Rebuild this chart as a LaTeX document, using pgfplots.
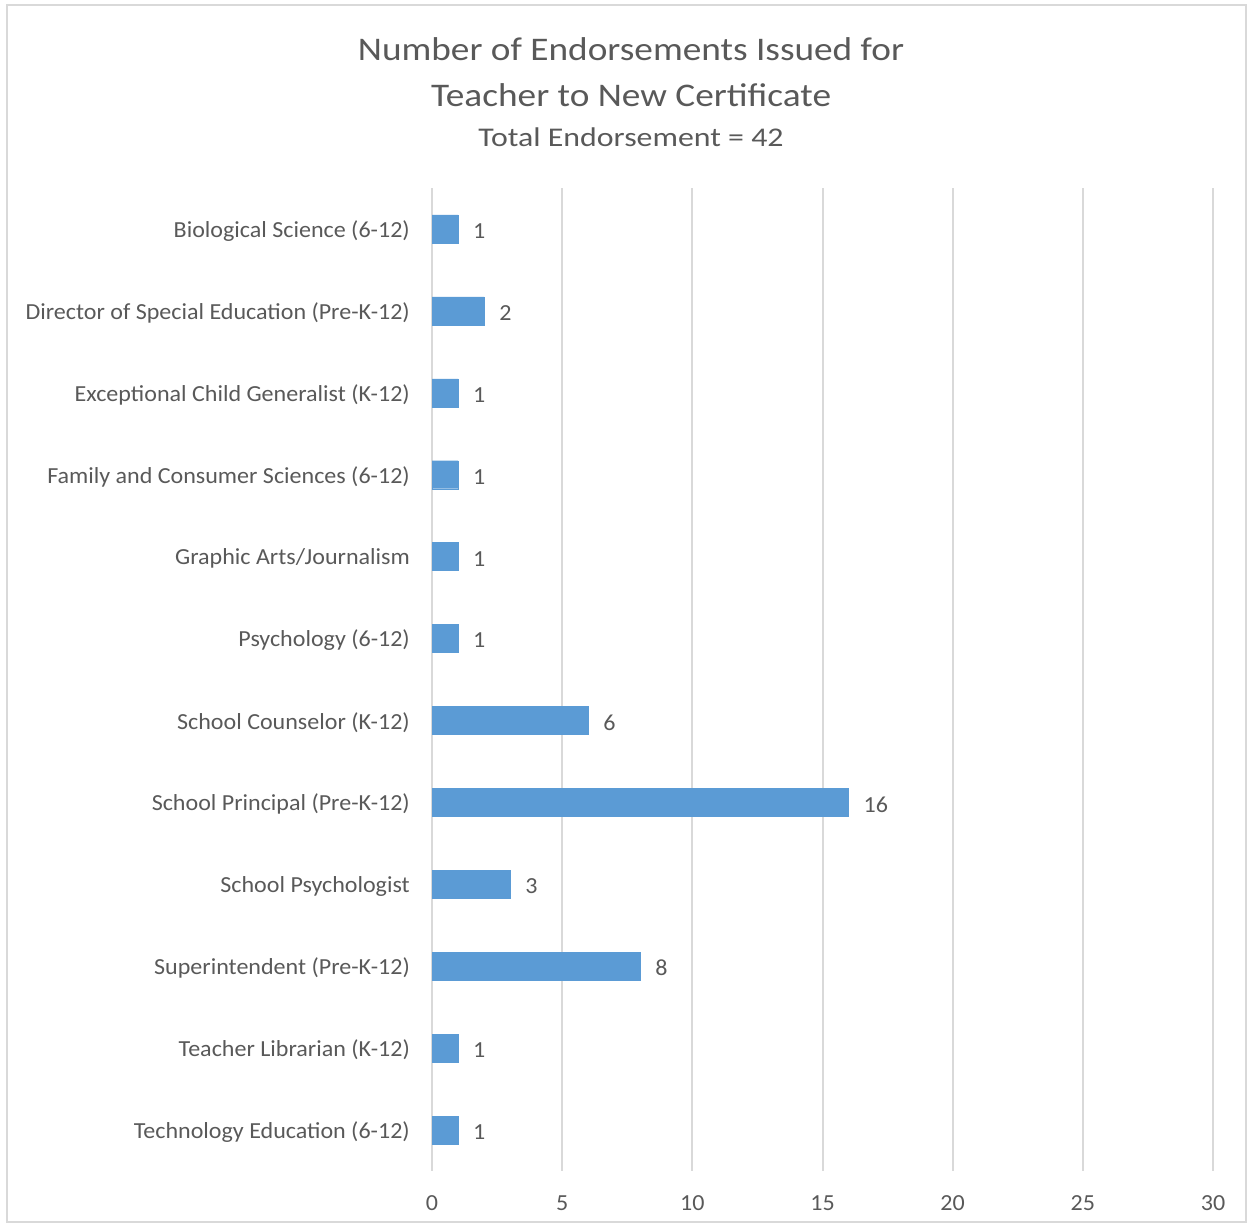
\documentclass[border=0pt]{standalone}
\usepackage{pgfplots}
\pgfplotsset{compat=1.18}
\usepackage{fontspec}
\setmainfont{Carlito}
\newfontfamily\lblfont[FakeStretch=1.045]{Carlito}
\newfontfamily\titlefont[FakeStretch=1.13]{Carlito}
\newfontfamily\subfont[FakeStretch=1.18]{Carlito}
\definecolor{txt}{HTML}{595959}
\definecolor{gridc}{HTML}{D9D9D9}
\definecolor{barc}{HTML}{5B9BD5}
\definecolor{frame}{HTML}{D9D9D9}
\begin{document}
\begin{tikzpicture}[x=1pt,y=1pt]
\useasboundingbox (0,0) rectangle (1253,1226);
\draw[frame, line width=1.5pt] (7,4) rectangle (1246,1221);
\node[txt, font=\titlefont\fontsize{33}{38}\selectfont] at (631,1177) {Number of Endorsements Issued for};
\node[txt, font=\titlefont\fontsize{33}{38}\selectfont] at (631,1131) {Teacher to New Certificate};
\node[txt, font=\subfont\fontsize{27}{31}\selectfont] at (631,1089) {Total Endorsement = 42};
\begin{axis}[
  at={(432pt,55pt)}, anchor=south west,
  width=781pt, height=983pt, scale only axis,
  xbar, bar width=28pt,
  xmin=0, xmax=30,
  ymin=-0.5, ymax=11.5, y dir=reverse,
  xtick={0,5,...,30},
  ytick={0,...,11},
  yticklabels={Biological Science (6-12),Director of Special Education (Pre-K-12),Exceptional Child Generalist (K-12),Family and Consumer Sciences (6-12),Graphic Arts/Journalism,Psychology (6-12),School Counselor (K-12),School Principal (Pre-K-12),School Psychologist,Superintendent (Pre-K-12),Teacher Librarian (K-12),Technology Education (6-12)},
  xmajorgrids, major grid style={gridc, line width=2pt},
  axis line style={draw=none},
  major tick length=0pt,
  tick label style={txt, font=\lblfont\fontsize{23}{27}\selectfont},
  /pgf/number format/assume math mode=true,
  xticklabel style={anchor=center, inner sep=0pt, yshift=-32pt},
  yticklabel style={anchor=east, inner sep=0pt, xshift=-22pt, yshift=-2pt},
  nodes near coords,
  every node near coord/.append style={txt, font=\lblfont\fontsize{23}{27}\selectfont, anchor=west, inner sep=0pt, xshift=15pt, yshift=-2pt},
  clip=false,
]
\addplot[fill=barc, draw=barc] coordinates {
(1,0) (2,1) (1,2) (1,3) (1,4) (1,5) (6,6) (16,7) (3,8) (8,9) (1,10) (1,11)
};
\end{axis}
\end{tikzpicture}
\end{document}
